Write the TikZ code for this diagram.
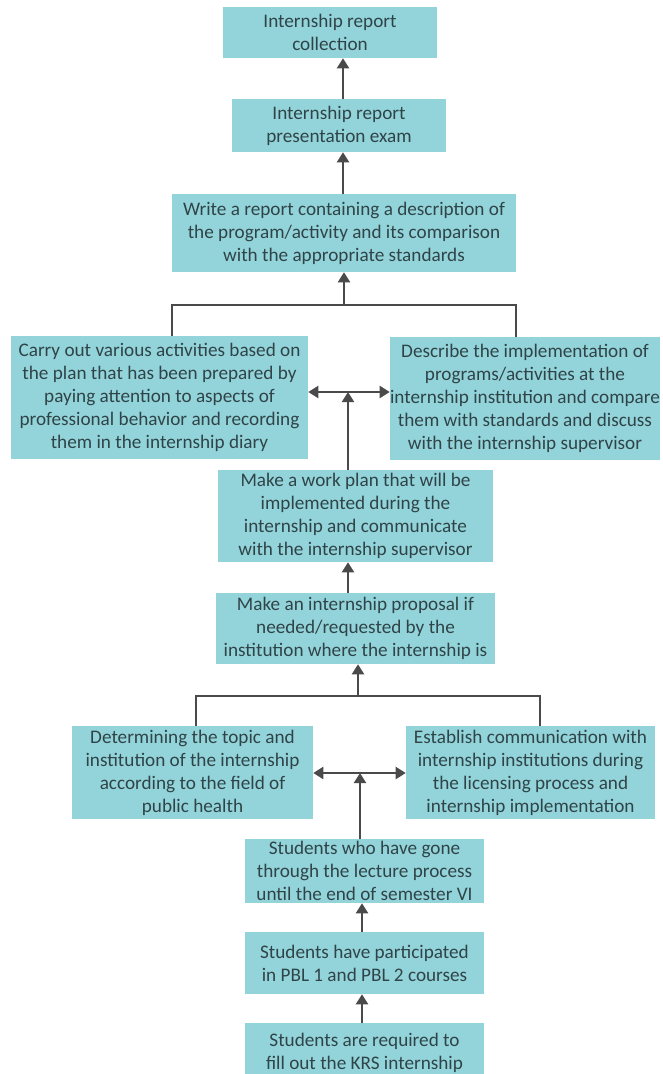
\documentclass[tikz,border=0pt]{standalone}
\usepackage{fontspec}
\setmainfont{Carlito}
\usepackage{xcolor}
\usetikzlibrary{arrows.meta}
\definecolor{boxfill}{HTML}{93D4DA}
\definecolor{boxtext}{HTML}{2F4448}
\definecolor{linkgray}{HTML}{4A4A4A}
\tikzstyle{step box}=[
        fill = boxfill,
        text = boxtext,
        align = center,
        inner sep = 0pt,
        font = \fontsize{14.4}{17.2}\selectfont
    ]
\tikzstyle{link}=[draw = linkgray, line width = 1.2pt]
\tikzstyle{arr}=[link, line width = 1.5pt, -{Triangle[length=7.5pt, width=9pt]}]
\tikzstyle{both}=[link, line width = 1.5pt, {Triangle[length=7.5pt, width=9pt]}-{Triangle[length=7.5pt, width=9pt]}]

\begin{document}
\begin{tikzpicture}[x=0.75pt, y=-0.75pt]
        \useasboundingbox (0,0) rectangle (662,1074);
        \node[step box, minimum width=160.5pt, minimum height=38.25pt] (B1) at (330,32.5) {Internship report\\collection};
        \node[step box, minimum width=160.5pt, minimum height=39.75pt] (B2) at (339,125.5) {Internship report\\presentation exam};
        \node[step box, minimum width=258pt, minimum height=58.5pt] (B3) at (344,233) {Write a report containing a description of\\the program/activity and its comparison\\with the appropriate standards};
        \node[step box, minimum width=222.75pt, minimum height=92.25pt] (B4) at (159.5,397.5) {Carry out various activities based on\\the plan that has been prepared by\\paying attention to aspects of\\professional behavior and recording\\them in the internship diary};
        \node[step box, minimum width=202.5pt, minimum height=92.25pt] (B5) at (525,398.5) {Describe the implementation of\\programs/activities at the\\internship institution and compare\\them with standards and discuss\\with the internship supervisor};
        \node[step box, minimum width=206.25pt, minimum height=69pt] (B6) at (355.5,516) {Make a work plan that will be\\implemented during the\\internship and communicate\\with the internship supervisor};
        \node[step box, minimum width=209.25pt, minimum height=53.25pt] (B7) at (355.5,628.5) {Make an internship proposal if\\needed/requested by the\\institution where the internship is};
        \node[step box, minimum width=180.75pt, minimum height=69.75pt] (B8) at (192.5,772.5) {Determining the topic and\\institution of the internship\\according to the field of\\public health};
        \node[step box, minimum width=186.75pt, minimum height=69.75pt] (B9) at (530.5,772.5) {Establish communication with\\internship institutions during\\the licensing process and\\internship implementation};
        \node[step box, minimum width=179.25pt, minimum height=48pt] (B10) at (364.5,871) {Students who have gone\\through the lecture process\\until the end of semester VI};
        \node[step box, minimum width=179.25pt, minimum height=46.5pt] (B11) at (364.5,963) {Students have participated\\in PBL 1 and PBL 2 courses};
        \node[step box, minimum width=179.25pt, minimum height=45pt, anchor=north] (B12) at (364.5,1023) {Students are required to\\fill out the KRS internship};

        \coordinate (J1) at (344,305);
        \coordinate (M1) at (348,392);
        \coordinate (J2) at (358,696);
        \coordinate (M2) at (360,773);

        \draw[arr] (B2.north -| 343,0) -- (B1.south -| 343,0);
        \draw[arr] (B3.north -| 343,0) -- (B2.south -| 343,0);
        \draw[arr] (J1) -- (B3.south -| J1);
        \draw[link] (B4.north -| 172,0) -- (J1 -| 172,0) -- (J1 -| 516,0) -- (B5.north -| 516,0);
        \draw[both] (B4.east |- M1) -- (B5.west |- M1);
        \draw[arr] (B6.north -| M1) -- (M1);
        \draw[arr] (B7.north -| M1) -- (B6.south -| M1);
        \draw[arr] (J2) -- (B7.south -| J2);
        \draw[link] (B8.north -| 196,0) -- (J2 -| 196,0) -- (J2 -| 540,0) -- (B9.north -| 540,0);
        \draw[both] (B8.east |- M2) -- (B9.west |- M2);
        \draw[arr] (B10.north -| M2) -- (M2);
        \draw[arr] (B11.north -| 362,0) -- (B10.south -| 362,0);
        \draw[arr] (B12.north -| 362,0) -- (B11.south -| 362,0);
    \end{tikzpicture}
\end{document}
